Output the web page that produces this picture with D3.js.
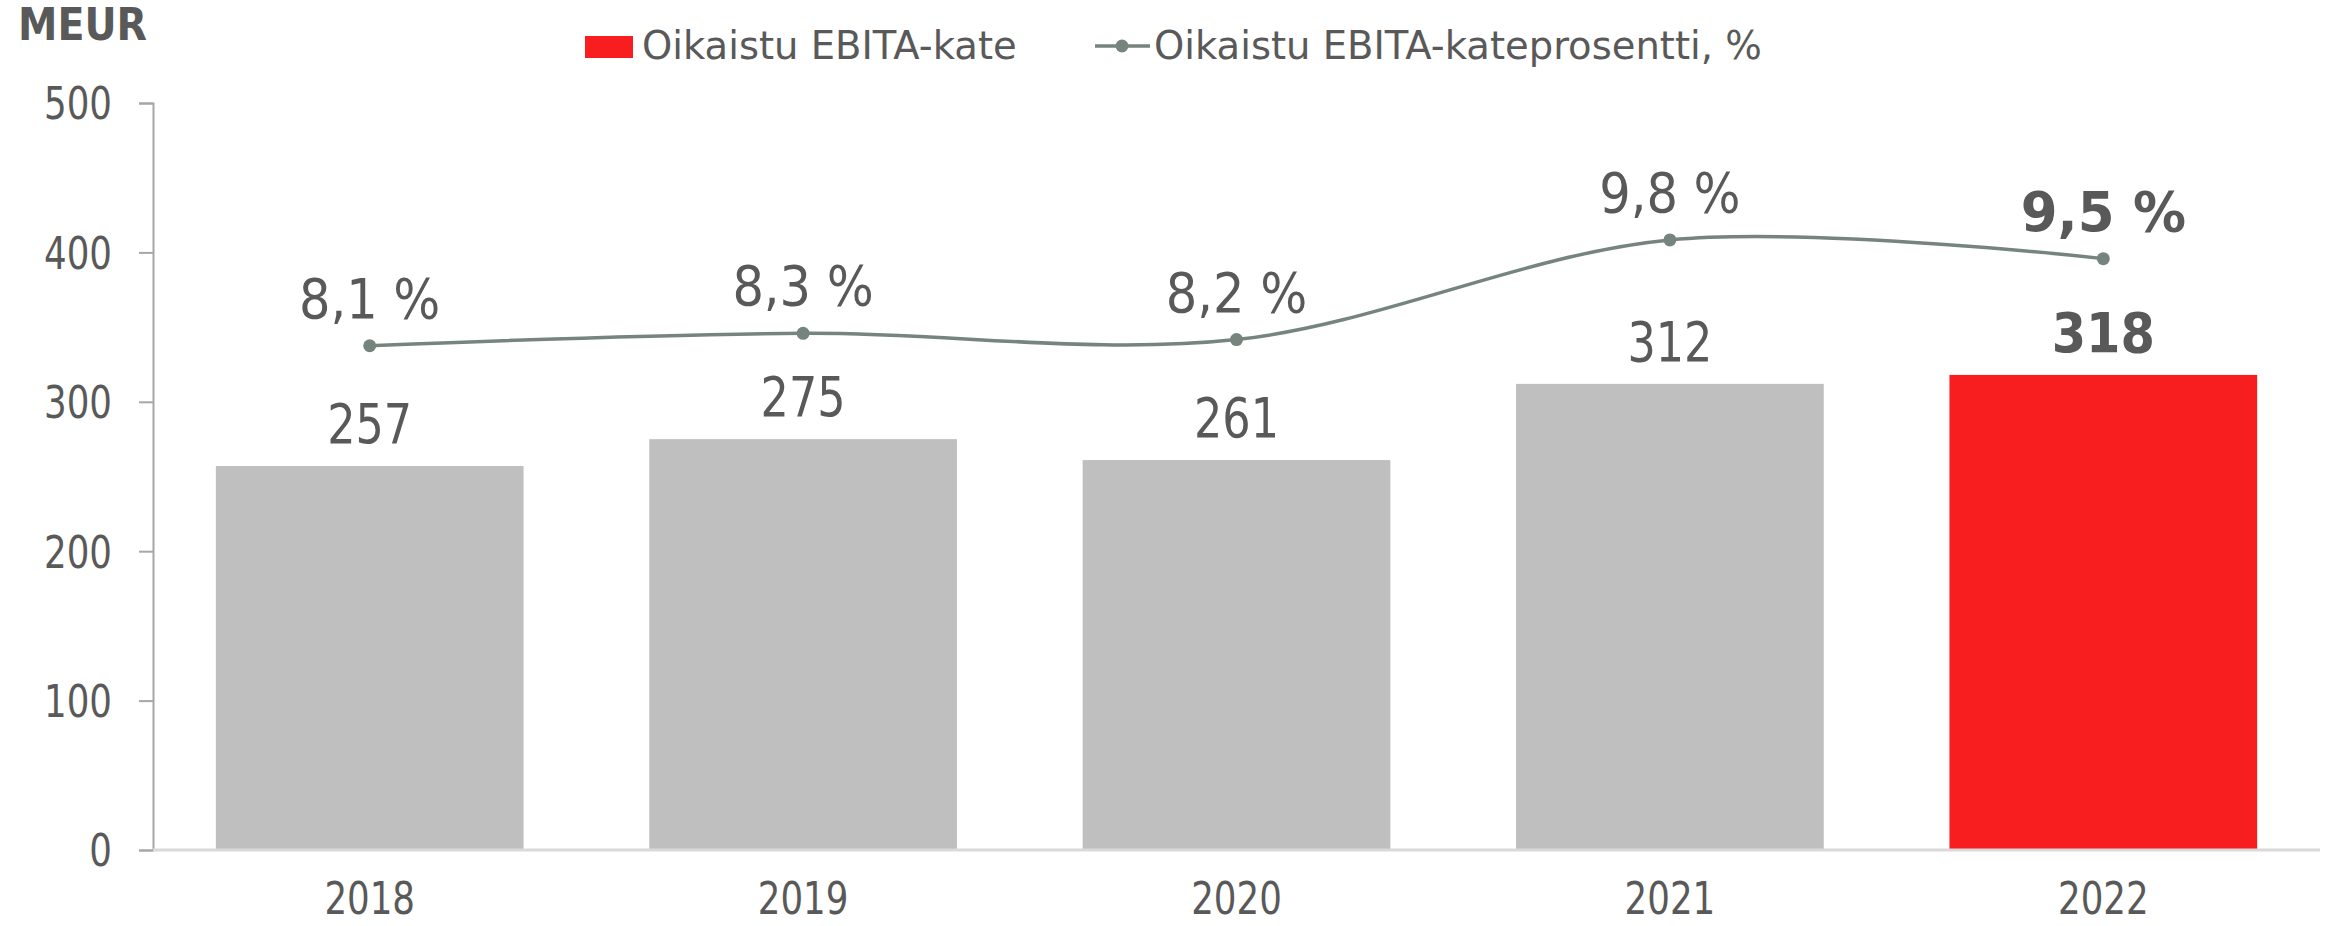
<!DOCTYPE html>
<html>
<head>
<meta charset="utf-8">
<script src="https://cdn.jsdelivr.net/npm/d3@7"></script>
<style>
  html, body { margin: 0; padding: 0; background: #ffffff; }
  svg { display: block; }
</style>
</head>
<body>
<svg id="chart" width="2330" height="926"></svg>
<script>
const years = ["2018", "2019", "2020", "2021", "2022"];
const ebita = [257, 275, 261, 312, 318];
const marginPct = [8.1, 8.3, 8.2, 9.8, 9.5];
const yTicks = [0, 100, 200, 300, 400, 500];
const highlightYear = "2022";
const unitLabel = "MEUR";
const legendBar = "Oikaistu EBITA-kate";
const legendLine = "Oikaistu EBITA-kateprosentti, %";

const W = 2330, H = 926;
const plot = { left: 153, right: 2320, top: 103, bottom: 850 };
const textColor = "#595959";
const barGray = "#bfbfbf";
const barRed = "#f81d1f";
const lineColor = "#76847e";
const FONT = "'DejaVu Sans Condensed', 'DejaVu Sans', sans-serif";
const FONT_WIDE = "'DejaVu Sans', sans-serif";
const SX = 0.9; // horizontal compression to mimic the narrow original face

const svg = d3.select("#chart");

const x = d3.scaleBand().domain(years).range([plot.left, plot.right]).paddingInner(0.29).paddingOuter(0.145);
const y = d3.scaleLinear().domain([0, 500]).range([plot.bottom, plot.top]);
const y2 = d3.scaleLinear().domain([0, 12]).range([plot.bottom, plot.top]);

function label(g, tx, ty, str, opts) {
  opts = opts || {};
  return g.append("text")
    .attr("transform", `translate(${tx},${ty}) scale(${opts.sx ?? SX},1)`)
    .attr("text-anchor", opts.anchor || "middle")
    .attr("font-family", opts.family || FONT)
    .attr("font-size", opts.size || 44)
    .attr("font-weight", opts.bold ? "bold" : "normal")
    .attr("fill", textColor)
    .text(str);
}

// Bars
svg.append("g").selectAll("rect")
  .data(years)
  .join("rect")
  .attr("x", d => x(d))
  .attr("width", x.bandwidth())
  .attr("y", (d, i) => y(ebita[i]))
  .attr("height", (d, i) => y(0) - y(ebita[i]))
  .attr("fill", d => d === highlightYear ? barRed : barGray);

// Y axis
const yAxis = d3.axisLeft(y).tickValues(yTicks).tickSize(14).tickPadding(27).tickFormat(d3.format("d"));
const yg = svg.append("g").attr("transform", `translate(${plot.left},0)`).call(yAxis);
yg.select(".domain").attr("stroke", "#a6a6a6").attr("stroke-width", 2);
yg.selectAll(".tick line").attr("stroke", "#a6a6a6").attr("stroke-width", 2);
yg.selectAll(".tick text")
  .attr("font-family", FONT).attr("font-size", 44).attr("fill", textColor)
  .attr("dy", "0.36em")
  .each(function() {
    const t = d3.select(this);
    const xx = +t.attr("x");
    t.attr("x", null).attr("transform", `translate(${xx},0) scale(${SX},1)`);
  });

// X axis
const xAxis = d3.axisBottom(x).tickSize(0).tickPadding(0);
const xg = svg.append("g").attr("transform", `translate(0,${plot.bottom})`).call(xAxis);
xg.select(".domain").attr("stroke", "#d9d9d9").attr("stroke-width", 3).attr("d", `M${plot.left},0H${plot.right}`);
xg.selectAll(".tick text").remove();
xg.selectAll(".tick").each(function(d) {
  label(d3.select(this), 0, 64, d, { size: 44 });
});

// Bar value labels
const lg = svg.append("g");
years.forEach((yr, i) => {
  const hi = yr === highlightYear;
  label(lg, x(yr) + x.bandwidth() / 2, y(ebita[i]) - 23, String(ebita[i]),
        { size: 55, bold: hi, sx: hi ? 1 : SX });
});

// Line
const cx = d => x(d) + x.bandwidth() / 2;
const line = d3.line()
  .x((d, i) => cx(years[i]))
  .y(d => y2(d))
  .curve(d3.curveCardinal.tension(0));
svg.append("path")
  .datum(marginPct)
  .attr("d", line)
  .attr("fill", "none")
  .attr("stroke", lineColor)
  .attr("stroke-width", 3.5);
svg.append("g").selectAll("circle")
  .data(marginPct)
  .join("circle")
  .attr("cx", (d, i) => cx(years[i]))
  .attr("cy", d => y2(d))
  .attr("r", 6.5)
  .attr("fill", lineColor);

const fmtPct = v => v.toFixed(1).replace(".", ",") + " %";
years.forEach((yr, i) => {
  const hi = yr === highlightYear;
  label(lg, cx(yr), y2(marginPct[i]) - 28, fmtPct(marginPct[i]),
        { size: 55, bold: hi, sx: hi ? 1.07 : 1 });
});

// Unit label
label(svg, 18, 40, unitLabel, { size: 44, bold: true, anchor: "start", sx: 1 });

// Legend
const leg = svg.append("g");
leg.append("rect").attr("x", 585).attr("y", 36).attr("width", 48).attr("height", 22).attr("fill", barRed);
label(leg, 642, 59, legendBar, { size: 38.5, anchor: "start", family: FONT_WIDE, sx: 1 });
leg.append("line").attr("x1", 1095).attr("x2", 1150).attr("y1", 46).attr("y2", 46)
  .attr("stroke", lineColor).attr("stroke-width", 3.5);
leg.append("circle").attr("cx", 1122).attr("cy", 46).attr("r", 6.5).attr("fill", lineColor);
label(leg, 1154, 59, legendLine, { size: 38.5, anchor: "start", family: FONT_WIDE, sx: 1 });
</script>
</body>
</html>
